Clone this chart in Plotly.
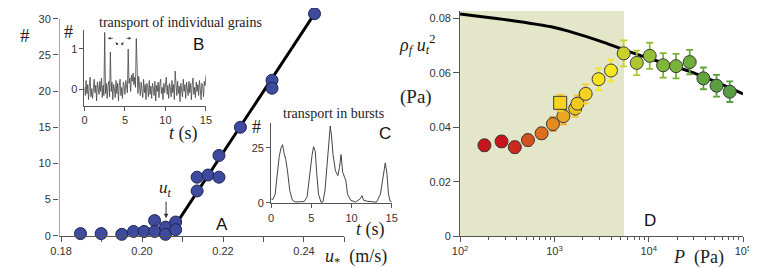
import plotly.graph_objects as go

W, H = 757, 268
def px(x): return x / W
def py(y): return 1 - y / H

SANS = "Liberation Sans, Arial, sans-serif"
SERIF = "Liberation Serif"
AXC = "#555555"
TXC = "#333333"

# ---------------- Panel A data ----------------
a_u = [0.1848, 0.1899, 0.1950, 0.1979, 0.2005, 0.2031, 0.2031, 0.2058, 0.2058,
       0.2083, 0.2083, 0.2136, 0.2136, 0.2163, 0.2190, 0.2190, 0.2243, 0.2321,
       0.2321, 0.2426]
a_n = [0.3, 0.3, 0.2, 0.6, 0.6, 2.1, 0.6, 1.2, 0.2,
       1.9, 0.85, 6.2, 8.1, 8.4, 11.1, 8.1, 15.0, 21.5,
       20.4, 30.7]
a_fit_u = [0.2065, 0.2426]
a_fit_n = [0.0, 30.7]
a_xticks = [0.18, 0.19, 0.20, 0.21, 0.22, 0.23, 0.24, 0.25]
a_xlabels = ["0.18", " ", "0.20", " ", "0.22", " ", "0.24", " "]
a_yticks = [0, 5, 10, 15, 20, 25, 30]

# ---------------- Inset B data (t step 0.1 s) ----------------
b_y = [0.05, -0.15, 0.22, -0.10, 0.12, -0.25, 0.08, 0.30, -0.18, 0.02,
       -0.22, 0.15, 0.25, -0.08, 0.10, -0.28, 0.18, 0.05, -0.12, 0.20,
       -0.05, 0.28, -0.20, 0.10, -0.15, 1.40, -0.10, 0.15, -0.22, 0.08,
       0.20, -0.18, 0.92, -0.05, 0.18, -0.25, 0.12, 0.02, -0.20, 0.22,
       -0.10, 0.15, -0.28, 0.10, 0.25, -0.15, 0.05, -0.22, 0.18, 0.08,
       -0.12, 0.22, 0.10, -0.08, 0.99, 0.15, 0.28, -0.05, 0.35, 0.20,
       0.40, 0.12, 0.30, 0.05, 1.25, 0.25, -0.10, 0.32, 0.08, -0.15,
       0.18, 0.02, -0.20, 0.25, -0.08, 0.12, -0.25, 0.15, 0.05, -0.18,
       0.22, -0.12, 0.08, -0.22, 0.15, 0.02, -0.15, 0.20, -0.28, 0.10,
       -0.05, 0.18, -0.20, 0.12, 0.25, -0.10, 0.05, -0.25, 0.15, -0.08,
       0.20, 0.30, -0.12, 0.10, -0.22, 0.15, 0.05, -0.18, 0.22, -0.08,
       0.12, -0.25, 0.45, 0.05, -0.15, 0.20, -0.10, 0.08, -0.30, 0.15,
       0.02, -0.18, 0.25, -0.05, 0.12, -0.22, 0.18, 0.05, -0.15, 0.20,
       -0.08, 0.15, -0.25, 0.10, 0.28, -0.12, 0.05, -0.20, 0.18, -0.05,
       0.12, -0.15, 0.22, 0.02, -0.25, 0.15, 0.08, -0.18, 0.20, 0.10,
       0.35]
b_t = [i / 10 for i in range(len(b_y))]

# ---------------- Inset C data ----------------
c_t = [0, 0.2, 0.5, 0.81, 1.0, 1.22, 1.42, 1.62, 1.82, 2.03,
       2.31, 2.64, 3.0, 3.5, 4.1, 4.47, 4.87, 5.1, 5.28, 5.49,
       5.68, 5.89, 6.21, 6.45, 6.7, 7.1, 7.35, 7.5, 7.7, 8.0,
       8.3, 8.5, 8.7, 8.9, 9.1, 9.3, 9.5, 9.9, 10.5, 11.1,
       11.3, 11.5, 11.9, 12.5, 13.1, 13.6, 14.0, 14.2, 14.4, 14.6,
       14.8, 15.0]
c_y = [1.9, 1.5, 4.0, 16, 21, 25, 26.5, 22.3, 19.8, 14.6,
       5.7, 1.2, 0.4, 0.5, 0.6, 2.7, 16, 22, 25.6, 23.4,
       13, 4, 0.3, 0.5, 5.7, 25, 35, 30.9, 22, 14.6,
       12.4, 16, 22, 14, 12.4, 10, 4, 1.2, 0.4, 1.9,
       3.3, 1.2, 0.8, 0.5, 0.3, 4, 13, 18.2, 13.7, 4,
       0.8, 0.5]

# ---------------- Panel D data ----------------
d_p = [181, 275, 380, 524, 731, 964, 1245, 1660, 1754, 2145, 2940, 3980,
       5430, 7470, 10250, 14220, 19500, 27200, 38000, 52400, 72400]
d_v = [0.0334, 0.0348, 0.0327, 0.0353, 0.0378, 0.0412, 0.0441, 0.0469, 0.0487,
       0.0523, 0.0577, 0.0609, 0.0672, 0.0637, 0.0663, 0.0628, 0.0625, 0.0640,
       0.0580, 0.0553, 0.0531]
d_err = [0.002, 0.002, 0.002, 0.002, 0.002, 0.0025, 0.003, 0.003, 0.003,
         0.0035, 0.004, 0.004, 0.0048, 0.0045, 0.0048, 0.0045, 0.0045, 0.0045,
         0.004, 0.004, 0.0038]
d_col = ["#c8141c", "#c8141c", "#cc2a1c", "#d4501e", "#de6f1f", "#e48a20",
         "#eba722", "#f0c21f", "#f2c81f", "#f4d21e", "#f7e21d", "#f5e81f",
         "#c9d22b", "#b0c830", "#92bf33", "#80b637", "#78b23a", "#6ead3c",
         "#60a43e", "#5aa03f", "#589e40"]
sq_p = [1151]
sq_v = [0.049]
sq_err = [0.003]
curve_p = [100, 300, 1000, 1490, 3000, 5470, 10000, 30000, 100000]
curve_v = [0.0817, 0.0796, 0.0767, 0.0751, 0.0718, 0.0685, 0.0654, 0.0600, 0.0523]
shade_p = [100, 5470]
d_xmajor = [100, 1000, 10000, 100000]
d_xlabels = ["10<sup>2</sup>", "10<sup>3</sup>", "10<sup>4</sup>", "10<sup>5</sup>"]
d_xminor = [m * 10 ** e for e in (2, 3, 4) for m in range(2, 10)]
d_yticks = [0, 0.02, 0.04, 0.06, 0.08]
d_ylabels = ["0", "0.02", "0.04", "0.06", "0.08"]

fig = go.Figure()

# Panel A
fig.add_trace(go.Scatter(x=a_fit_u, y=a_fit_n, mode="lines",
                         line=dict(color="black", width=3), xaxis="x", yaxis="y",
                         showlegend=False))
fig.add_trace(go.Scatter(x=a_u, y=a_n, mode="markers", cliponaxis=False,
                         marker=dict(size=12, color="#3d4a9e",
                                     line=dict(color="#1e2450", width=1)),
                         xaxis="x", yaxis="y", showlegend=False))
# Inset B
fig.add_trace(go.Scatter(x=b_t, y=b_y, mode="lines",
                         line=dict(color="#444444", width=0.8),
                         xaxis="x2", yaxis="y2", showlegend=False))
# Inset C
fig.add_trace(go.Scatter(x=c_t, y=c_y, mode="lines",
                         line=dict(color="#444444", width=1),
                         xaxis="x3", yaxis="y3", showlegend=False))
# Panel D
fig.add_trace(go.Scatter(x=curve_p, y=curve_v, mode="lines", line_shape="spline",
                         line=dict(color="black", width=3), xaxis="x4", yaxis="y4",
                         showlegend=False))
for p, v, e, c in zip(d_p, d_v, d_err, d_col):
    fig.add_trace(go.Scatter(x=[p], y=[v], mode="markers",
                             error_y=dict(type="data", array=[e], color=c,
                                          thickness=1.8, width=3.5),
                             marker=dict(size=13, color=c,
                                         line=dict(color="#3a3a3a", width=1)),
                             xaxis="x4", yaxis="y4", showlegend=False))
fig.add_trace(go.Scatter(x=sq_p, y=sq_v, mode="markers",
                         error_y=dict(type="data", array=sq_err, color="#f2cf1f",
                                      thickness=1.8, width=3.5),
                         marker=dict(size=13, symbol="square", color="#f7d31f",
                                     line=dict(color="#3a3a3a", width=1)),
                         xaxis="x4", yaxis="y4", showlegend=False))

tickfont = dict(family=SANS, size=11, color=TXC)
common = dict(showgrid=False, zeroline=False, tickfont=tickfont,
              ticks="outside", tickcolor=AXC, linecolor=AXC, linewidth=1)

fig.update_layout(
    width=W, height=H, autosize=False,
    margin=dict(l=0, r=0, t=0, b=0),
    paper_bgcolor="white", plot_bgcolor="rgba(0,0,0,0)",
    xaxis=dict(domain=[px(43), px(335)], range=[0.1795, 0.25], anchor="y",
               tickvals=a_xticks, ticktext=a_xlabels, ticklen=5, showline=True,
               **common),
    yaxis=dict(domain=[py(233), py(5.1)], range=[0, 30.8], anchor="x",
               tickvals=a_yticks, ticklen=5, showline=False, **common),
    xaxis2=dict(domain=[px(69), px(193.3)], range=[0, 15], anchor="y2",
                tickvals=[0, 5, 10, 15], ticklen=4, showline=True, **common),
    yaxis2=dict(domain=[py(100), py(22)], range=[-0.40, 1.47], anchor="x2",
                tickvals=[0, 1], ticklen=4, showline=True, **common),
    xaxis3=dict(domain=[px(260), px(383.3)], range=[0, 15], anchor="y3",
                tickvals=[0, 5, 10, 15], ticklen=4, showline=True, **common),
    yaxis3=dict(domain=[py(199.8), py(118)], range=[-0.2, 36.2], anchor="x3",
                tickvals=[0, 25], ticklen=4, showline=True, **common),
    xaxis4=dict(domain=[px(453.3), px(742.7)], type="log", range=[2, 5],
                anchor="y4", tickvals=d_xmajor, ticktext=d_xlabels, ticklen=5,
                showline=True,
                minor=dict(tickvals=d_xminor, ticks="outside", ticklen=3,
                           tickcolor=AXC),
                **common),
    yaxis4=dict(domain=[py(233.3), py(3)], range=[0, 0.0828], anchor="x4",
                tickvals=d_yticks, ticktext=d_ylabels, ticklen=6, showline=True,
                **common),
)

# shapes: panel A y-axis line (0..30) and shaded region in D
fig.add_shape(type="line", xref="x", yref="y", x0=0.1795, x1=0.1795, y0=0, y1=30,
              line=dict(color=AXC, width=1))
fig.add_shape(type="rect", xref="x4", yref="y4", x0=shade_p[0], x1=shade_p[1],
              y0=0, y1=0.0828, fillcolor="#e3e6c8", line=dict(width=0), layer="below")

def txt(x, y, s, size, family=SERIF, color="#222222"):
    fig.add_annotation(x=px(x), y=py(y), xref="paper", yref="paper", text=s,
                       showarrow=False, font=dict(family=family, size=size, color=color),
                       xanchor="center", yanchor="middle")

txt(8, 28, "#", 19)
txt(53, 25, "#", 18)
txt(245, 121.5, "#", 18)
txt(167.5, 15, "transport of individual grains", 14)
txt(324, 108, "transport in bursts", 14)
txt(170, 128, "<i>t</i> (s)", 18)
txt(362, 227, "<i>t</i> (s)", 18)
txt(347, 255, "<i>u</i><sub>*</sub>&nbsp; (m/s)", 18)
txt(697, 255, "<i>P</i>&nbsp; (Pa)", 18)
txt(409, 37, "<i>ρ<sub>f</sub> u<sub>t</sub></i><sup>2</sup>", 18)
txt(408, 91, "(Pa)", 19)
txt(152, 185, "<i>u<sub>t</sub></i>", 17)
txt(210, 221, "A", 17, SANS, "#111111")
txt(186, 37, "B", 17, SANS, "#111111")
txt(376, 128, "C", 17, SANS, "#111111")
txt(648, 217, "D", 17, SANS, "#111111")

def arrow(hx, hy, tx, ty, w=1.0, size=1.0):
    fig.add_annotation(x=px(hx), y=py(hy), xref="paper", yref="paper",
                       ax=tx - hx, ay=ty - hy, axref="pixel", ayref="pixel",
                       text="", showarrow=True, arrowhead=2, arrowsize=size,
                       arrowwidth=w, arrowcolor="#333333")

arrow(152.5, 215, 152.5, 197, 1.0, 0.9)
arrow(93, 31, 99.5, 31, 0.7, 0.8)
arrow(101, 35, 104.5, 39.5, 0.7, 0.8)
arrow(117, 31, 110.5, 31, 0.7, 0.8)
arrow(109, 35, 105.5, 39.5, 0.7, 0.8)

fig.write_html("out.html")
